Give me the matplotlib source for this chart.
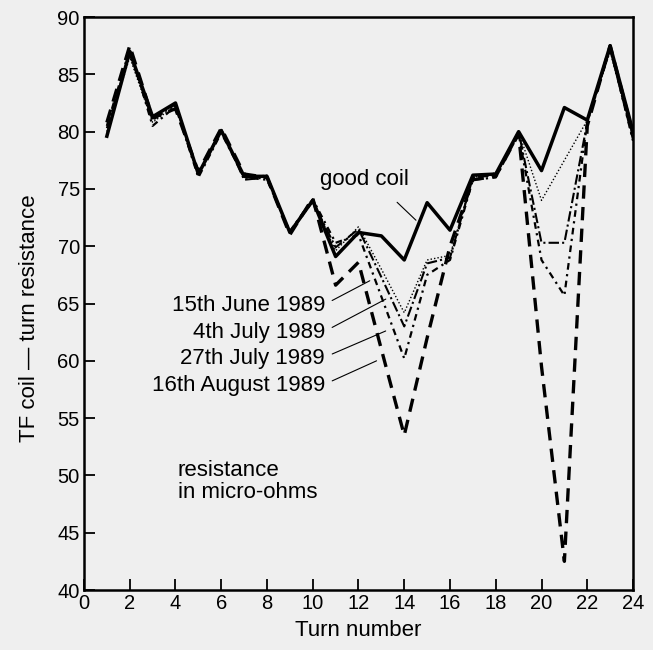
import matplotlib
matplotlib.use("Agg")
import matplotlib.pyplot as plt

turns = list(range(1, 25))
good_coil = [79.6, 87.0, 81.3, 82.5, 76.3, 80.1, 76.1, 76.1, 71.2, 74.0, 69.1, 71.2,
             70.9, 68.8, 73.8, 71.4, 76.2, 76.3, 80.0, 76.6, 82.1, 81.0, 87.5, 80.0]
june15 = [80.0, 86.5, 80.8, 82.3, 76.2, 80.0, 76.0, 76.2, 71.3, 74.0, 69.6, 71.7,
          68.0, 64.2, 68.8, 69.2, 76.0, 76.4, 80.0, 74.0, 77.5, 81.0, 87.0, 79.5]
july4 = [80.3, 86.8, 81.0, 82.4, 76.3, 80.2, 75.8, 76.0, 71.2, 73.9, 69.9, 71.5,
         67.3, 63.0, 68.5, 69.0, 76.0, 76.2, 80.0, 70.3, 70.3, 80.8, 87.2, 79.3]
july27 = [80.5, 87.2, 80.5, 82.2, 76.0, 79.9, 76.0, 75.8, 71.3, 74.1, 70.3, 71.0,
          65.6, 60.2, 67.5, 68.8, 75.8, 76.0, 79.8, 68.8, 65.7, 80.9, 87.3, 79.2]
aug16 = [80.8, 87.5, 81.2, 82.0, 76.5, 80.3, 76.3, 76.0, 71.0, 74.2, 66.6, 68.6,
         61.0, 53.5, 62.0, 70.0, 75.8, 76.1, 79.8, 59.5, 42.5, 80.5, 87.5, 79.8]

series_labels = ["15th June 1989", "4th July 1989", "27th July 1989", "16th August 1989"]
x_ticks = list(range(0, 25, 2))
y_ticks = list(range(40, 91, 5))

plt.rcParams['font.family'] = ['Liberation Sans', 'DejaVu Sans']
bg = '#efefef'
fig = plt.figure(figsize=(6.53, 6.5), dpi=100, facecolor=bg)
ax = fig.add_axes([0.1286, 0.0923, 0.8408, 0.8815], facecolor=bg)

ax.plot(turns, june15, color='black', lw=1.0, ls=(0, (1, 1.5)))
ax.plot(turns, july4, color='black', lw=1.5, ls=(0, (5, 1.5, 1, 1.5)))
ax.plot(turns, july27, color='black', lw=1.6, ls=(0, (3, 2, 1, 2)))
ax.plot(turns, aug16, color='black', lw=2.4, ls=(0, (4, 2.5)))
ax.plot(turns, good_coil, color='black', lw=2.5, ls='-')

ax.set_xlim(0, 24)
ax.set_ylim(40, 90)
ax.set_xticks(x_ticks)
ax.set_yticks(y_ticks)
ax.tick_params(direction='in', length=8, width=1.3, labelsize=14.5, pad=3)
for s in ax.spines.values():
    s.set_linewidth(1.8)

ax.set_xlabel("Turn number", fontsize=16, labelpad=5)
ax.set_ylabel("TF coil \u2014 turn resistance", fontsize=16)
ax.yaxis.set_label_coords(-0.08, 0.475)

ax.text(12.24, 75.8, "good coil", fontsize=16, ha='center', va='center')
ax.annotate("", xy=(14.6, 72.1), xytext=(13.6, 74.0),
            arrowprops=dict(arrowstyle='-', lw=0.8, color='black'))

label_pos = [(10.54, 64.85), (10.54, 62.5), (10.54, 60.2), (10.54, 57.85)]
targets = [(12.6, 67.1), (13.3, 65.5), (13.3, 62.7), (12.9, 60.1)]
for lab, (tx, ty), (px, py) in zip(series_labels, label_pos, targets):
    ax.text(tx, ty, lab, fontsize=16, ha='right', va='center')
    ax.annotate("", xy=(px, py), xytext=(tx + 0.2, ty + 0.3),
                arrowprops=dict(arrowstyle='-', lw=0.8, color='black'))

ax.text(4.1, 49.5, "resistance\nin micro-ohms", fontsize=16, ha='left', va='center',
        linespacing=1.05)

fig.savefig("out.png", dpi=100, facecolor=bg)
